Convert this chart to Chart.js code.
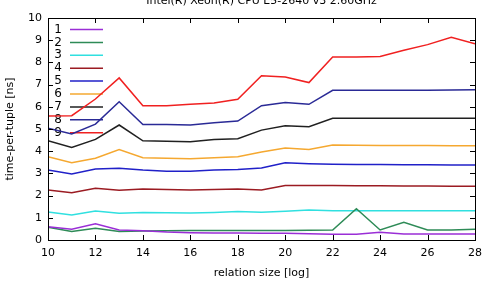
<!DOCTYPE html>
<html>
<head>
<meta charset="utf-8">
<script src="https://cdn.jsdelivr.net/npm/chart.js@4/dist/chart.umd.min.js"></script>
<style>
  html, body { margin: 0; padding: 0; background: #fff; }
  #wrap { width: 489px; height: 283px; }
</style>
</head>
<body>
<div id="wrap"><canvas id="grafico"></canvas></div>
<script>
// dados
const titulo = 'Intel(R) Xeon(R) CPU E5-2640 v3 2.60GHz';
const tamanhos = [10, 11, 12, 13, 14, 15, 16, 17, 18, 19, 20, 21, 22, 23, 24, 25, 26, 27, 28];
const nomes = ['1', '2', '3', '4', '5', '6', '7', '8', '9'];
const cores = ['#9a2ed6', '#2e8b57', '#30e0e0', '#9b1b22', '#2020c8', '#f5a830', '#202020', '#2a2a96', '#f02020'];

const serie1 = [0.6, 0.48, 0.73, 0.45, 0.42, 0.36, 0.33, 0.32, 0.31, 0.3, 0.3, 0.28, 0.26, 0.26, 0.35, 0.27, 0.27, 0.27, 0.27];
const serie2 = [0.57, 0.38, 0.53, 0.38, 0.41, 0.42, 0.43, 0.43, 0.43, 0.43, 0.43, 0.44, 0.45, 1.41, 0.45, 0.8, 0.45, 0.45, 0.48];
const serie3 = [1.26, 1.13, 1.31, 1.2, 1.24, 1.23, 1.22, 1.24, 1.28, 1.25, 1.3, 1.35, 1.32, 1.32, 1.32, 1.32, 1.32, 1.32, 1.32];
const serie4 = [2.25, 2.13, 2.33, 2.24, 2.3, 2.28, 2.25, 2.27, 2.3, 2.25, 2.45, 2.45, 2.45, 2.44, 2.44, 2.43, 2.43, 2.42, 2.42];
const serie5 = [3.15, 2.97, 3.2, 3.23, 3.15, 3.1, 3.1, 3.15, 3.18, 3.24, 3.48, 3.44, 3.41, 3.4, 3.4, 3.39, 3.39, 3.38, 3.38];
const serie6 = [3.75, 3.48, 3.68, 4.08, 3.71, 3.68, 3.66, 3.7, 3.75, 3.96, 4.14, 4.08, 4.28, 4.27, 4.26, 4.26, 4.26, 4.25, 4.25];
const serie7 = [4.47, 4.17, 4.53, 5.18, 4.47, 4.45, 4.43, 4.53, 4.56, 4.95, 5.15, 5.1, 5.48, 5.48, 5.48, 5.48, 5.48, 5.48, 5.48];
const serie8 = [5.04, 4.78, 5.22, 6.23, 5.2, 5.2, 5.18, 5.28, 5.36, 6.05, 6.19, 6.11, 6.74, 6.74, 6.74, 6.75, 6.75, 6.76, 6.77];
const serie9 = [5.58, 5.6, 6.35, 7.3, 6.05, 6.05, 6.12, 6.17, 6.34, 7.4, 7.34, 7.09, 8.24, 8.24, 8.27, 8.55, 8.8, 9.13, 8.84];

const series = [serie1, serie2, serie3, serie4, serie5, serie6, serie7, serie8, serie9];
const fonte = '"DejaVu Sans", sans-serif';

// moldura + ticks para dentro (estilo gnuplot) e título cortado no topo
const molduraPlugin = {
  id: 'moldura',
  afterDraw(chart) {
    const { ctx, chartArea: a, scales } = chart;
    ctx.save();
    ctx.strokeStyle = '#000';
    ctx.lineWidth = 1;
    ctx.strokeRect(a.left + 0.5, a.top + 0.5, a.right - a.left, a.bottom - a.top);
    ctx.beginPath();
    scales.x.ticks.forEach(t => {
      const px = Math.round(scales.x.getPixelForValue(t.value)) + 0.5;
      ctx.moveTo(px, a.bottom); ctx.lineTo(px, a.bottom - 5);
      ctx.moveTo(px, a.top); ctx.lineTo(px, a.top + 5);
    });
    scales.y.ticks.forEach(t => {
      const py = Math.round(scales.y.getPixelForValue(t.value)) + 0.5;
      ctx.moveTo(a.left, py); ctx.lineTo(a.left + 5, py);
      ctx.moveTo(a.right, py); ctx.lineTo(a.right - 5, py);
    });
    ctx.stroke();
    ctx.fillStyle = '#000';
    ctx.font = '11px ' + fonte;
    ctx.textAlign = 'center';
    ctx.textBaseline = 'alphabetic';
    ctx.fillText(titulo, (a.left + a.right) / 2, 3.5);
    ctx.restore();
  }
};

// legenda do gnuplot: número e depois a amostra da linha
const legendaPlugin = {
  id: 'legenda',
  beforeDatasetsDraw(chart) {
    const { ctx, chartArea: a } = chart;
    ctx.save();
    ctx.font = '12px ' + fonte;
    ctx.textAlign = 'right';
    ctx.textBaseline = 'middle';
    chart.data.datasets.forEach((ds, i) => {
      const y = a.top + 11.5 + i * 12.9;
      ctx.fillStyle = '#000';
      ctx.fillText(ds.label, a.left + 14, y);
      ctx.strokeStyle = ds.borderColor;
      ctx.lineWidth = 1.5;
      ctx.beginPath();
      ctx.moveTo(a.left + 22, y);
      ctx.lineTo(a.left + 55, y);
      ctx.stroke();
    });
    ctx.restore();
  }
};

new Chart(document.getElementById('grafico'), {
  type: 'line',
  data: {
    datasets: series.map((s, i) => ({
      label: nomes[i],
      data: s.map((v, j) => ({ x: tamanhos[j], y: v })),
      borderColor: cores[i],
      backgroundColor: cores[i],
      borderWidth: 1.5,
      pointRadius: 0,
      tension: 0,
      fill: false
    }))
  },
  options: {
    responsive: true,
    maintainAspectRatio: false,
    animation: false,
    events: [],
    layout: { padding: { left: 0, right: 10, top: 18, bottom: 0 } },
    plugins: {
      legend: { display: false },
      title: { display: false },
      tooltip: { enabled: false }
    },
    scales: {
      x: {
        type: 'linear',
        min: 10,
        max: 28,
        grid: { drawOnChartArea: false, drawTicks: false },
        border: { display: false },
        ticks: { stepSize: 2, padding: 7, color: '#000', font: { family: fonte, size: 11 }, maxRotation: 0 },
        title: { display: true, text: 'relation size [log]', color: '#000', font: { family: fonte, size: 11 }, padding: { top: 0, bottom: 3 } },
        afterFit: s => { s.height = 43; }
      },
      y: {
        min: 0,
        max: 10,
        grid: { drawOnChartArea: false, drawTicks: false },
        border: { display: false },
        ticks: { stepSize: 1, padding: 6, color: '#000', font: { family: fonte, size: 11 } },
        title: { display: true, text: 'time-per-tuple [ns]', color: '#000', font: { family: fonte, size: 11 }, padding: { top: 4, bottom: 0 } },
        afterFit: s => { s.width = 48; }
      }
    }
  },
  plugins: [legendaPlugin, molduraPlugin]
});
</script>
</body>
</html>
